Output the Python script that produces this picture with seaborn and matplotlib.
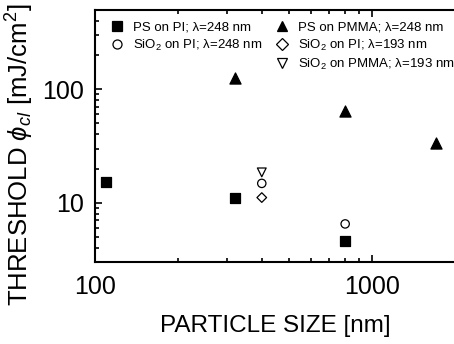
import matplotlib
matplotlib.use("Agg")
import matplotlib.pyplot as plt
import seaborn as sns
import pandas as pd
from matplotlib.lines import Line2D

sns.set_theme(style="ticks")
plt.rcParams['font.family'] = ['Liberation Sans', 'DejaVu Sans']
plt.rcParams['mathtext.fontset'] = 'custom'
plt.rcParams['mathtext.rm'] = 'Liberation Sans'
plt.rcParams['mathtext.it'] = 'Liberation Sans:italic'
for k in ['text.color', 'axes.labelcolor', 'xtick.color', 'ytick.color', 'axes.edgecolor']:
    plt.rcParams[k] = 'black'

# Data
ps_pi_x = [110, 320, 800]
ps_pi_y = [15.1, 10.9, 4.6]
ps_pmma_x = [320, 800, 1700]
ps_pmma_y = [125, 64, 33.6]
sio2_pi248_x = [400, 800]
sio2_pi248_y = [14.8, 6.5]
sio2_pi193_x = [400]
sio2_pi193_y = [11.1]
sio2_pmma193_x = [400]
sio2_pmma193_y = [18.5]

labels = ["PS on PI; λ=248 nm", "SiO$_2$ on PI; λ=248 nm",
          "PS on PMMA; λ=248 nm", "SiO$_2$ on PI; λ=193 nm",
          "SiO$_2$ on PMMA; λ=193 nm"]

fig = plt.figure(figsize=(4.54, 3.44), dpi=100)
ax = fig.add_axes([95/454, 1-262/344, 360.4/454, 252/344])

series = [
    (ps_pi_x, ps_pi_y, 's', 'black', 52),
    (sio2_pi248_x, sio2_pi248_y, 'o', 'none', 36),
    (ps_pmma_x, ps_pmma_y, '^', 'black', 64),
    (sio2_pi193_x, sio2_pi193_y, 'D', 'none', 24),
    (sio2_pmma193_x, sio2_pmma193_y, 'v', 'none', 40),
]
for (x, y, m, fc, s) in series:
    df = pd.DataFrame({'x': x, 'y': y})
    sns.scatterplot(data=df, x='x', y='y', marker=m, s=s, ax=ax,
                    facecolor=fc, edgecolor='black', linewidth=0.9, zorder=3)

ax.set_xscale('log')
ax.set_yscale('log')
ax.set_xlim(100, 2000)
ax.set_ylim(3, 500)
ax.set_xticks([100, 1000])
ax.set_xticklabels(['100', '1000'])
ax.set_yticks([10, 100])
ax.set_yticklabels(['10', '100'])
ax.tick_params(which='both', direction='in', top=True, right=False, width=1.2)
ax.tick_params(which='major', length=5, labelsize=18)
ax.tick_params(axis='x', which='major', pad=9)
ax.tick_params(axis='y', which='major', pad=8)
ax.tick_params(which='minor', length=3)
for sp in ax.spines.values():
    sp.set_linewidth(1.5)

ax.set_xlabel('PARTICLE SIZE [nm]', fontsize=17.5, labelpad=12)
ax.set_ylabel(r'THRESHOLD $\phi_{cl}$ [mJ/cm$^2$]', fontsize=18.5)
ax.yaxis.set_label_coords(-0.164, 0.425)

def h(m, fc):
    return Line2D([], [], ls='none', marker=m, markerfacecolor=fc,
                  markeredgecolor='black', markersize=6.5, markeredgewidth=0.9)

handles = [h('s', 'black'), h('o', 'none'), Line2D([], [], ls='none'),
           h('^', 'black'), h('D', 'none'), h('v', 'none')]
leg_labels = [labels[0], labels[1], '', labels[2], labels[3], labels[4]]
ax.legend(handles, leg_labels, ncol=2, loc='upper left', bbox_to_anchor=(0.0, 1.0),
          frameon=False, fontsize=9.5, handletextpad=0.4, columnspacing=0.7,
          labelspacing=0.3, borderaxespad=0.45, handlelength=1.6)

fig.savefig('out.png', dpi=100)
